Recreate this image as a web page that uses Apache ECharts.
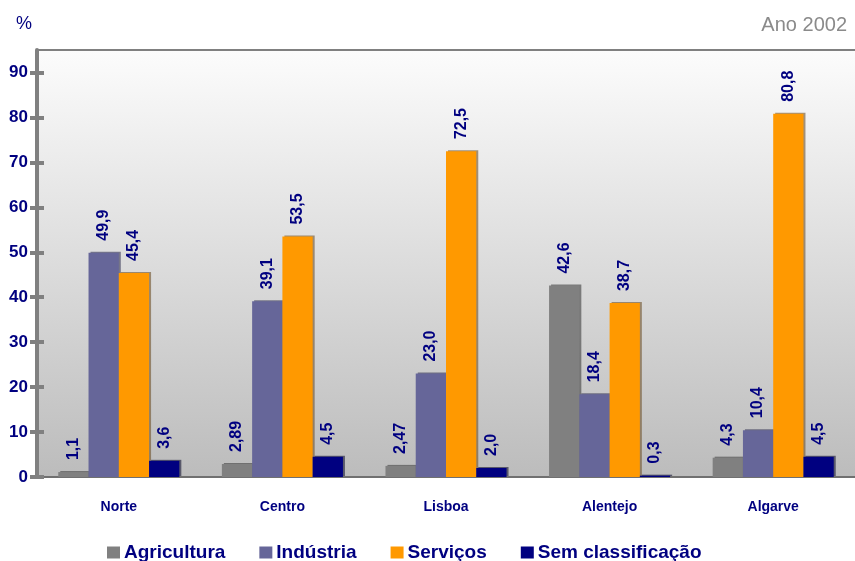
<!DOCTYPE html>
<html>
<head>
<meta charset="utf-8">
<script src="https://cdn.jsdelivr.net/npm/echarts@6/dist/echarts.min.js"></script>
<style>
  html, body { margin: 0; padding: 0; background: #ffffff; }
  #chart { width: 855px; height: 561px; }
</style>
</head>
<body>
<div id="chart"></div>
<script>
// Regiões e distribuição por sector (%), ano 2002
const regioes = ['Norte', 'Centro', 'Lisboa', 'Alentejo', 'Algarve'];
const agricultura = [1.1, 2.89, 2.47, 42.6, 4.3];
const industria = [49.9, 39.1, 23.0, 18.4, 10.4];
const servicos = [45.4, 53.5, 72.5, 38.7, 80.8];
const semClassificacao = [3.6, 4.5, 2.0, 0.3, 4.5];
const yTicks = [0, 10, 20, 30, 40, 50, 60, 70, 80, 90];

const FONT = '"Liberation Sans", Arial, sans-serif';
const NAVY = '#000080';

// 1 decimal place at least, decimal comma
function fmt(v) {
  const s = Number.isInteger(v) ? v.toFixed(1) : String(v);
  return s.replace('.', ',');
}

function barSeries(name, data, color, shadow) {
  return {
    name: name,
    type: 'bar',
    data: data,
    barGap: '0%',
    barCategoryGap: '26%',
    itemStyle: {
      color: color,
      shadowColor: shadow,
      shadowBlur: 0,
      shadowOffsetX: 2,
      shadowOffsetY: -1
    },
    label: {
      show: true,
      position: 'top',
      rotate: 90,
      align: 'left',
      verticalAlign: 'middle',
      distance: 11,
      offset: [1, 0],
      color: NAVY,
      fontFamily: FONT,
      fontWeight: 'bold',
      fontSize: 16,
      formatter: p => fmt(p.value)
    }
  };
}

const chart = echarts.init(document.getElementById('chart'), null, { renderer: 'canvas' });

chart.setOption({
  animation: false,
  backgroundColor: '#ffffff',
  title: [
    { text: '%', left: 11, top: 10, textStyle: { color: NAVY, fontFamily: FONT, fontWeight: 'normal', fontSize: 18 } },
    { text: 'Ano 2002', right: 3, top: 10, textStyle: { color: '#8a8a8a', fontFamily: FONT, fontWeight: 'normal', fontSize: 20 } }
  ],
  grid: {
    left: 37, right: 0, top: 50, bottom: 84,
    show: true,
    borderWidth: 0,
    backgroundColor: new echarts.graphic.LinearGradient(0, 0, 0, 1, [
      { offset: 0, color: '#fcfcfc' },
      { offset: 1, color: '#bcbcbc' }
    ])
  },
  legend: {
    left: 102,
    top: 538,
    itemWidth: 13,
    itemHeight: 12,
    itemGap: 34,
    icon: 'rect',
    textStyle: { color: NAVY, fontFamily: FONT, fontWeight: 'bold', fontSize: 19, padding: [0, 0, 0, -1] },
    data: ['Agricultura', 'Indústria', 'Serviços', 'Sem classificação']
  },
  xAxis: [
    {
      type: 'category',
      data: regioes,
      axisLine: { show: true, lineStyle: { color: '#707070', width: 2 } },
      axisTick: { show: false },
      axisLabel: { color: NAVY, fontFamily: FONT, fontWeight: 'bold', fontSize: 14, margin: 23 }
    },
    {
      type: 'category',
      data: regioes,
      position: 'top',
      axisLine: { show: true, onZero: false, lineStyle: { color: '#808080', width: 2 } },
      axisTick: { show: false },
      axisLabel: { show: false }
    }
  ],
  yAxis: [
    {
      type: 'value',
      min: 0, max: 95, interval: 10,
      splitLine: { show: false },
      axisLine: { show: true, lineStyle: { color: '#808080', width: 4 } },
      axisTick: { show: true, length: 7, customValues: yTicks, lineStyle: { color: '#808080', width: 4 } },
      axisLabel: { customValues: yTicks, color: NAVY, fontFamily: FONT, fontWeight: 'bold', fontSize: 17, margin: 9 }
    },
    {
      type: 'value',
      position: 'left',
      min: 0, max: 95, interval: 10,
      splitLine: { show: false },
      axisLine: { show: false },
      axisTick: { show: true, inside: true, length: 7, customValues: yTicks, lineStyle: { color: '#808080', width: 4 } },
      axisLabel: { show: false }
    }
  ],
  series: [
    barSeries('Agricultura', agricultura, '#808080', 'rgba(60,60,60,0.6)'),
    barSeries('Indústria', industria, '#666699', 'rgba(50,50,80,0.6)'),
    barSeries('Serviços', servicos, '#ff9900', 'rgba(110,80,40,0.6)'),
    barSeries('Sem classificação', semClassificacao, '#000080', 'rgba(20,20,50,0.6)')
  ]
});
</script>
</body>
</html>
